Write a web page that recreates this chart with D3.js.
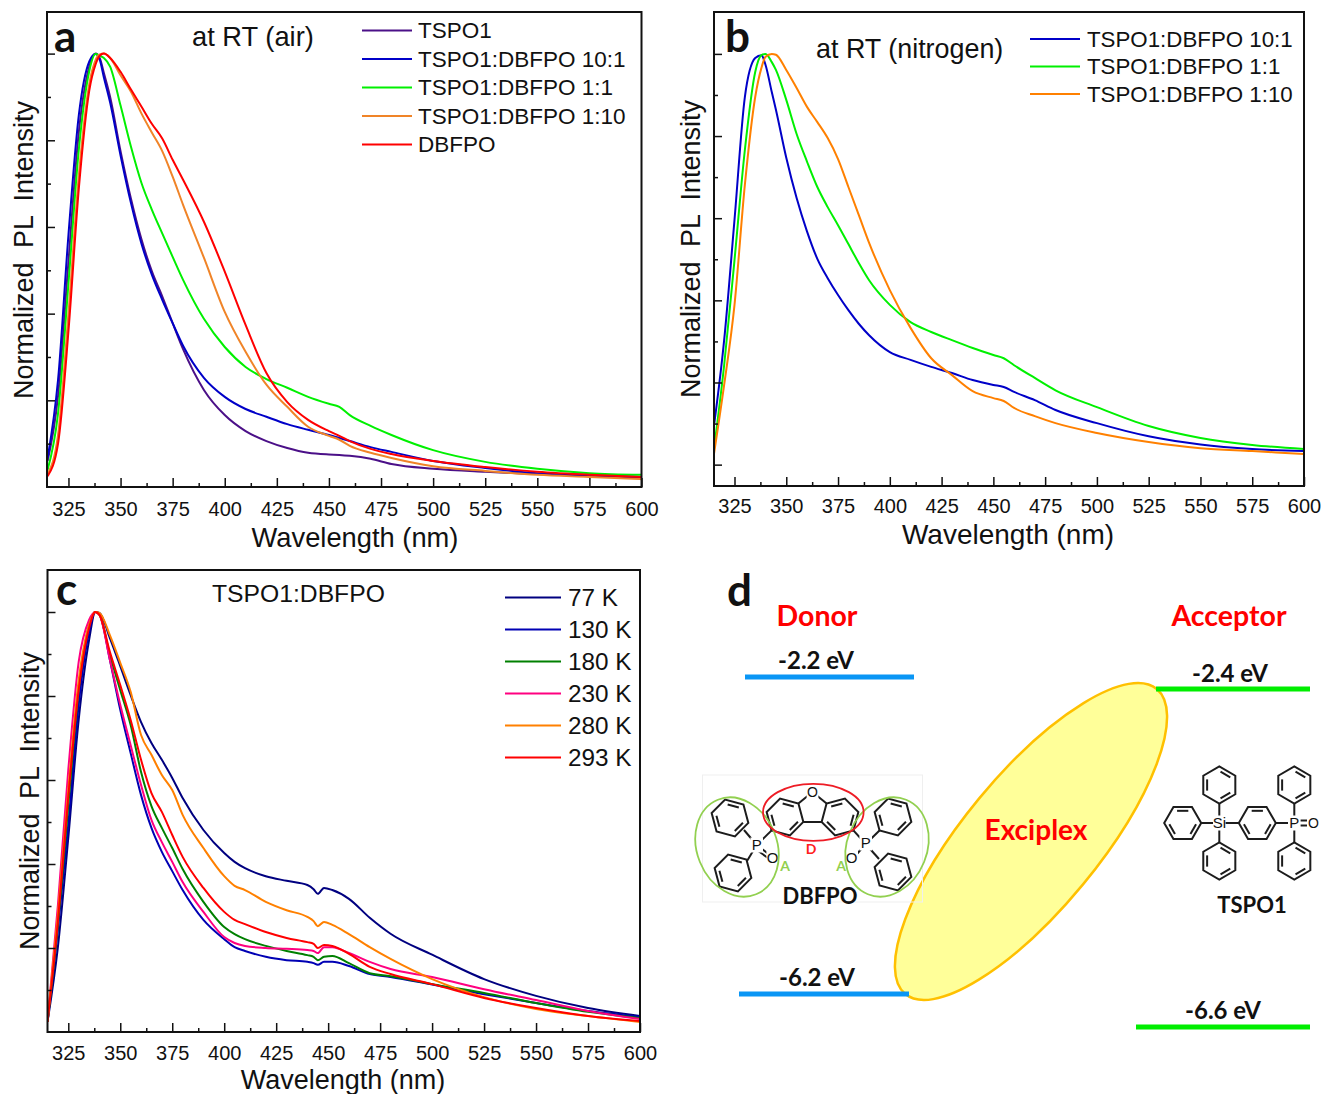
<!DOCTYPE html>
<html>
<head>
<meta charset="utf-8">
<script src="https://cdn.jsdelivr.net/npm/d3@7"></script>
<style>
  body { margin: 0; background: #fff; }
  text { font-family: "Liberation Sans", Arial, sans-serif; fill: #111; }
  .bold { font-family: Lato, "Open Sans", sans-serif; font-weight: 700; }
</style>
</head>
<body>
<div id="chart"></div>
<script>
// panel a, at RT (air)
const wavelengthsA = [315,320,325,330,335,338,340,342,345,350,355,360,365,370,375,380,390,400,410,420,430,440,450,455,460,470,480,500,525,550,575,600];
const tspo1Air = [.06,.21,.52,.82,.97,1,.99,.955,.9,.775,.665,.572,.498,.44,.378,.318,.224,.166,.129,.106,.09,.079,.075,.074,.072,.065,.053,.042,.035,.03,.025,.023];
const ratio10Air = [.067,.247,.582,.859,.982,.999,.986,.945,.887,.765,.655,.562,.49,.432,.378,.326,.252,.208,.18,.162,.145,.132,.12,.113,.106,.092,.081,.06,.044,.032,.028,.023];
const ratio1Air = [.04,.17,.47,.78,.96,.999,.995,.99,.97,.88,.785,.702,.64,.585,.531,.478,.388,.323,.277,.249,.229,.208,.192,.185,.166,.141,.12,.085,.058,.042,.032,.028];
const ratio01Air = [.03,.12,.4,.72,.93,.985,.998,1,.99,.95,.912,.862,.818,.775,.716,.651,.529,.404,.312,.236,.185,.139,.118,.109,.095,.079,.067,.048,.037,.028,.023,.018];
const dbfpoAir = [.025,.1,.36,.69,.915,.975,.995,1,.99,.958,.917,.878,.838,.804,.755,.709,.612,.497,.374,.263,.196,.155,.129,.118,.106,.088,.076,.06,.046,.035,.028,.023];
const legendA = ['TSPO1', 'TSPO1:DBFPO 10:1', 'TSPO1:DBFPO 1:1', 'TSPO1:DBFPO 1:10', 'DBFPO'];

// panel b, at RT (nitrogen)
const wavelengthsB = [315,320,325,330,335,338,340,343,345,350,355,360,365,370,375,380,385,390,400,410,420,430,440,450,455,460,470,480,500,525,550,575,600];
const ratio10N2 = [.091,.303,.596,.895,.99,.997,.973,.907,.864,.747,.649,.568,.501,.454,.413,.376,.343,.315,.274,.255,.238,.223,.206,.194,.189,.177,.157,.133,.101,.069,.049,.038,.033];
const ratio1N2 = [.035,.242,.498,.766,.956,.997,1,.98,.961,.888,.805,.738,.676,.627,.583,.537,.491,.449,.389,.347,.323,.303,.284,.267,.259,.242,.211,.181,.14,.094,.065,.048,.038];
const ratio01N2 = [.023,.194,.389,.681,.895,.966,.993,1,.998,.961,.917,.871,.834,.795,.744,.676,.608,.54,.425,.333,.259,.218,.179,.162,.155,.138,.118,.101,.077,.055,.04,.033,.026];
const legendB = ['TSPO1:DBFPO 10:1', 'TSPO1:DBFPO 1:1', 'TSPO1:DBFPO 1:10'];

// panel c, temperature series
const wavelengthsC = [315,320,325,330,335,338,340,345,350,355,360,365,370,375,380,390,400,405,410,420,430,440,443,445,448,452,460,470,480,500,525,550,575,600];
const temp77 = [.024,.202,.462,.743,.933,1,.998,.938,.871,.802,.738,.688,.648,.605,.557,.481,.426,.405,.39,.371,.36,.35,.34,.329,.343,.338,.317,.272,.234,.184,.126,.086,.057,.038];
const temp130 = [.024,.243,.493,.779,.952,1,.995,.886,.767,.664,.564,.486,.429,.383,.338,.267,.221,.202,.193,.179,.171,.167,.164,.16,.167,.167,.157,.138,.131,.113,.09,.069,.05,.036];
const temp180 = [.024,.255,.54,.814,.969,1,.993,.898,.814,.731,.619,.538,.486,.438,.388,.31,.25,.233,.221,.205,.193,.183,.179,.171,.179,.181,.164,.14,.133,.114,.093,.069,.048,.033];
const temp230 = [.024,.302,.624,.881,.981,1,.993,.886,.779,.683,.588,.505,.452,.405,.357,.286,.226,.212,.205,.2,.198,.195,.193,.188,.202,.202,.188,.167,.15,.131,.102,.076,.05,.031];
const temp280 = [.024,.279,.576,.838,.969,1,.998,.945,.879,.81,.707,.66,.612,.576,.517,.438,.371,.348,.338,.31,.29,.274,.264,.252,.262,.255,.233,.202,.174,.126,.083,.055,.038,.024];
const temp293 = [.024,.262,.56,.814,.962,1,.993,.905,.826,.743,.648,.569,.524,.469,.417,.343,.286,.267,.257,.238,.224,.214,.21,.2,.207,.205,.186,.155,.138,.114,.081,.057,.038,.026];
const legendC = ['77 K', '130 K', '180 K', '230 K', '280 K', '293 K'];

// axes
const xMajor = [325,350,375,400,425,450,475,500,525,550,575,600];
const xMinor = [337.5,362.5,387.5,412.5,437.5,462.5,487.5,512.5,537.5,562.5,587.5];
const yMajor = [0,.2,.4,.6,.8,1];
const yMinor = [.1,.3,.5,.7,.9];

// panel d, energy levels in eV
const donorLevels = [-2.2, -6.2];
const acceptorLevels = [-2.4, -6.6];

const svg = d3.select('#chart').append('svg').attr('width', 1322).attr('height', 1094);

function drawPanel(p) {
     const x = d3.scaleLinear().domain(p.xDomain).range([p.left, p.right]);
     const y = d3.scaleLinear().domain(p.yDomain).range([p.bottom, p.top]);
     const clipId = 'clip' + p.label;
     svg.append('clipPath').attr('id', clipId).append('rect')
          .attr('x', p.left).attr('y', p.top)
          .attr('width', p.right - p.left).attr('height', p.bottom - p.top);

     const line = d3.line().x((d, i) => x(p.wavelengths[i])).y(d => y(d)).curve(d3.curveMonotoneX);
     svg.append('g').attr('clip-path', `url(#${clipId})`)
          .selectAll('path').data(p.series).enter().append('path')
               .attr('d', d => line(d))
               .attr('fill', 'none')
               .attr('stroke', (d, i) => p.colours[i])
               .attr('stroke-width', p.lineWidth);

     // ticks point into the plot
     const xAxis = svg.append('g').attr('transform', `translate(0,${p.bottom})`)
          .call(d3.axisBottom(x).tickValues(xMajor).tickFormat(d3.format('d')).tickSizeInner(-9).tickSizeOuter(0).tickPadding(p.tickPad));
     svg.append('g').attr('transform', `translate(0,${p.bottom})`)
          .call(d3.axisBottom(x).tickValues(xMinor).tickFormat('').tickSizeInner(-4).tickSizeOuter(0));
     svg.append('g').attr('transform', `translate(${p.left},0)`)
          .call(d3.axisLeft(y).tickValues(yMajor.filter(v => y(v) < p.bottom - 1)).tickFormat('').tickSizeInner(-8).tickSizeOuter(0));
     svg.append('g').attr('transform', `translate(${p.left},0)`)
          .call(d3.axisLeft(y).tickValues(yMinor).tickFormat('').tickSizeInner(-4).tickSizeOuter(0));
     svg.selectAll('.domain').remove();
     svg.selectAll('.tick line').attr('stroke', '#111').attr('stroke-width', 1.5);
     xAxis.selectAll('text').attr('font-size', 20).style('font-family', '"Liberation Sans", Arial, sans-serif').attr('fill', '#111');

     svg.append('rect')
          .attr('x', p.left).attr('y', p.top)
          .attr('width', p.right - p.left).attr('height', p.bottom - p.top)
          .attr('fill', 'none').attr('stroke', '#111').attr('stroke-width', 2);

     svg.append('text').attr('x', p.xTitle[0]).attr('y', p.xTitle[1])
          .attr('text-anchor', 'middle').attr('font-size', p.xTitle[2]).text('Wavelength (nm)');
     svg.append('text')
          .attr('transform', `translate(${p.yTitle[0]},${p.yTitle[1]}) rotate(-90)`)
          .attr('text-anchor', 'middle').attr('font-size', 27).style('word-spacing', '7px')
          .text('Normalized PL Intensity');
     svg.append('text').attr('x', p.note[0]).attr('y', p.note[1])
          .attr('font-size', p.noteSize).text(p.noteText);

     const legend = svg.append('g').selectAll('g').data(p.legend).enter().append('g')
          .attr('transform', (d, i) => `translate(0,${p.legendY + i * p.legendStep})`);
     legend.append('line')
          .attr('x1', p.legendX[0]).attr('x2', p.legendX[1])
          .attr('stroke', (d, i) => p.colours[i]).attr('stroke-width', 2);
     legend.append('text')
          .attr('x', p.legendX[2]).attr('dy', '0.35em')
          .attr('font-size', p.legendSize).text(d => d);

     svg.append('text').attr('class', 'bold').attr('x', p.letter[0]).attr('y', p.letter[1])
          .attr('font-size', 44).text(p.label);
}

drawPanel({
     label: 'a', left: 47, right: 641.5, top: 12, bottom: 487,
     xDomain: [314.7, 600], yDomain: [0, 1.096],
     wavelengths: wavelengthsA,
     series: [tspo1Air, ratio10Air, ratio1Air, ratio01Air, dbfpoAir],
     colours: ['#4b1088', '#0000c8', '#00f000', '#f08428', '#ff0000'],
     lineWidth: 2, tickPad: 15,
     xTitle: [355, 547, 27.3], yTitle: [33, 250],
     note: [192, 46], noteSize: 27.3, noteText: 'at RT (air)',
     legend: legendA, legendX: [362, 412, 418], legendY: 30.5, legendStep: 28.5, legendSize: 22.5,
     letter: [54, 52]
});

drawPanel({
     label: 'b', left: 714, right: 1304, top: 12, bottom: 486,
     xDomain: [315.1, 600], yDomain: [-0.052, 1.102],
     wavelengths: wavelengthsB,
     series: [ratio10N2, ratio1N2, ratio01N2],
     colours: ['#0000c8', '#00f000', '#ff8000'],
     lineWidth: 2, tickPad: 12.5,
     xTitle: [1008, 544, 28], yTitle: [700, 249],
     note: [816, 58], noteSize: 26.9, noteText: 'at RT (nitrogen)',
     legend: legendB, legendX: [1030, 1080, 1087], legendY: 39, legendStep: 27.5, legendSize: 22.3,
     letter: [725, 52]
});

drawPanel({
     label: 'c', left: 47.5, right: 640, top: 570, bottom: 1032,
     xDomain: [315, 600], yDomain: [0, 1.1],
     wavelengths: wavelengthsC,
     series: [temp77, temp130, temp180, temp230, temp280, temp293],
     colours: ['#000080', '#0000b4', '#008000', '#ff0080', '#ff8000', '#ff0000'],
     lineWidth: 2, tickPad: 13.5,
     xTitle: [343, 1089, 27], yTitle: [39, 801],
     note: [212, 602], noteSize: 24.7, noteText: 'TSPO1:DBFPO',
     legend: legendC, legendX: [505, 561, 568], legendY: 597.5, legendStep: 32, legendSize: 24.3,
     letter: [56, 605]
});

// panel d
const donorY = d3.scaleLinear().domain(donorLevels).range([677, 994]);
const acceptorY = d3.scaleLinear().domain(acceptorLevels).range([689, 1027]);

const d = svg.append('g');

function centred(x, y, size, colour, str, cls) {
     return d.append('text').attr('class', cls || 'bold').attr('x', x).attr('y', y)
          .attr('text-anchor', 'middle').attr('font-size', size)
          .style('fill', colour).text(str);
}

d.append('ellipse')
     .attr('rx', 197.7).attr('ry', 67.4)
     .attr('transform', 'translate(1031,841.5) rotate(-50.5)')
     .attr('fill', '#ffff99').attr('stroke', '#ffc000').attr('stroke-width', 2.5);

const donorBars = [[745, 914], [739, 909]];
const acceptorBars = [[1156, 1310], [1136, 1310]];
donorLevels.forEach((e, i) => {
     d.append('line').attr('x1', donorBars[i][0]).attr('x2', donorBars[i][1])
          .attr('y1', donorY(e)).attr('y2', donorY(e))
          .attr('stroke', '#0a96f5').attr('stroke-width', 5);
});
acceptorLevels.forEach((e, i) => {
     d.append('line').attr('x1', acceptorBars[i][0]).attr('x2', acceptorBars[i][1])
          .attr('y1', acceptorY(e)).attr('y2', acceptorY(e))
          .attr('stroke', '#00ee00').attr('stroke-width', 5);
});

centred(816, donorY(-2.2) - 8, 24, '#111', '-2.2 eV');
centred(1230, acceptorY(-2.4) - 7, 24, '#111', '-2.4 eV');
centred(817, donorY(-6.2) - 8, 24, '#111', '-6.2 eV');
centred(1223, acceptorY(-6.6) - 8, 24, '#111', '-6.6 eV');
centred(817, 626, 28.5, '#ff0000', 'Donor');
centred(1229, 626, 28.5, '#ff0000', 'Acceptor');
centred(1036, 840, 28, '#ff0000', 'Exciplex');
svg.append('text').attr('class', 'bold').attr('x', 727).attr('y', 606).attr('font-size', 44).text('d');

// molecules
const bond = { stroke: '#1c1c1c', width: 2 };

function segment(x1, y1, x2, y2, colour) {
     d.append('line').attr('x1', x1).attr('y1', y1).attr('x2', x2).attr('y2', y2)
          .attr('stroke', colour || bond.stroke).attr('stroke-width', bond.width);
}

// benzene ring: outline plus three inner double bonds
function ring(cx, cy, r, turn) {
     const pts = d3.range(6).map(i => {
          const a = (turn + i * 60) * Math.PI / 180;
          return [cx + r * Math.cos(a), cy + r * Math.sin(a)];
     });
     d.append('polygon').attr('points', pts.map(p => p.join(',')).join(' '))
          .attr('fill', 'none').attr('stroke', bond.stroke).attr('stroke-width', bond.width);
     [0, 2, 4].forEach(i => {
          const a = pts[i], b = pts[(i + 1) % 6];
          const s = 0.76;
          const trim = t => [cx + (t[0] - cx) * s, cy + (t[1] - cy) * s];
          const m = [(a[0] + b[0]) / 2, (a[1] + b[1]) / 2];
          const a2 = trim([a[0] + (m[0] - a[0]) * 0.2, a[1] + (m[1] - a[1]) * 0.2]);
          const b2 = trim([b[0] + (m[0] - b[0]) * 0.2, b[1] + (m[1] - b[1]) * 0.2]);
          segment(a2[0], a2[1], b2[0], b2[1]);
     });
}

function atom(x, y, str, size) {
     d.append('rect').attr('x', x - size * 0.42).attr('y', y - size * 0.5)
          .attr('width', size * 0.84).attr('height', size).attr('fill', '#fff');
     d.append('text').attr('x', x).attr('y', y).attr('dy', '0.35em')
          .attr('text-anchor', 'middle').attr('font-size', size).text(str);
}

// DBFPO
d.append('rect').attr('x', 702.5).attr('y', 775).attr('width', 220).attr('height', 127)
     .attr('fill', 'none').attr('stroke', '#efefef');
segment(744, 830, 756.7, 845);
segment(747, 861, 756.7, 845);
segment(756.7, 845, 771.6, 830.4);
segment(756.7, 845, 770, 855);
segment(754, 848, 768, 858);
ring(730, 818, 19, 15);
ring(733, 873, 19, 15);
ring(785, 817, 19, 15);
ring(840, 817, 19, -15);
segment(803.4, 822, 821.6, 822);
segment(798.4, 803.6, 812.5, 792);
segment(826.6, 803.6, 812.5, 792);
atom(812.5, 792, 'O', 14);
segment(853.4, 830.4, 865.7, 844);
segment(865.7, 844, 880, 830);
segment(865.7, 844, 879, 859);
segment(865.7, 844, 856, 855);
ring(893, 817, 19, 15);
ring(893, 872, 19, 15);
atom(756.7, 845, 'P', 15);
atom(772.7, 858, 'O', 15);
atom(865.7, 843, 'P', 15);
atom(851.7, 858, 'O', 15);
d.append('ellipse').attr('rx', 40).attr('ry', 51).attr('transform', 'translate(737,847) rotate(-22)')
     .attr('fill', 'none').attr('stroke', '#92d050').attr('stroke-width', 1.8);
d.append('ellipse').attr('rx', 40).attr('ry', 51).attr('transform', 'translate(887,847) rotate(22)')
     .attr('fill', 'none').attr('stroke', '#92d050').attr('stroke-width', 1.8);
d.append('ellipse').attr('cx', 813.3).attr('cy', 812.3).attr('rx', 50.3).attr('ry', 28.5)
     .attr('fill', 'none').attr('stroke', '#ee1c25').attr('stroke-width', 1.8);
centred(811, 854, 14, '#ff2020', 'D');
centred(785, 871, 14, '#92d050', 'A');
centred(841, 871, 14, '#92d050', 'A');
centred(820, 904, 22, '#111', 'DBFPO');

// TSPO1
segment(1201, 823, 1239, 823);
segment(1219.3, 803, 1219.3, 842);
segment(1276, 823, 1294, 823);
segment(1300, 820.5, 1307, 820.5);
segment(1300, 825.5, 1307, 825.5);
segment(1294.3, 803, 1294.3, 842);
ring(1182.7, 823, 18.5, 0);
ring(1219.3, 785, 18.5, 30);
ring(1219.3, 861, 18.5, 30);
ring(1257.3, 823, 18.5, 0);
ring(1294.3, 785, 18.5, 30);
ring(1294.3, 861, 18.5, 30);
atom(1219.3, 823, 'Si', 15);
atom(1294.3, 823, 'P', 15);
atom(1313.5, 823, 'O', 14);
centred(1252, 913, 22, '#111', 'TSPO1');
</script>
</body>
</html>
